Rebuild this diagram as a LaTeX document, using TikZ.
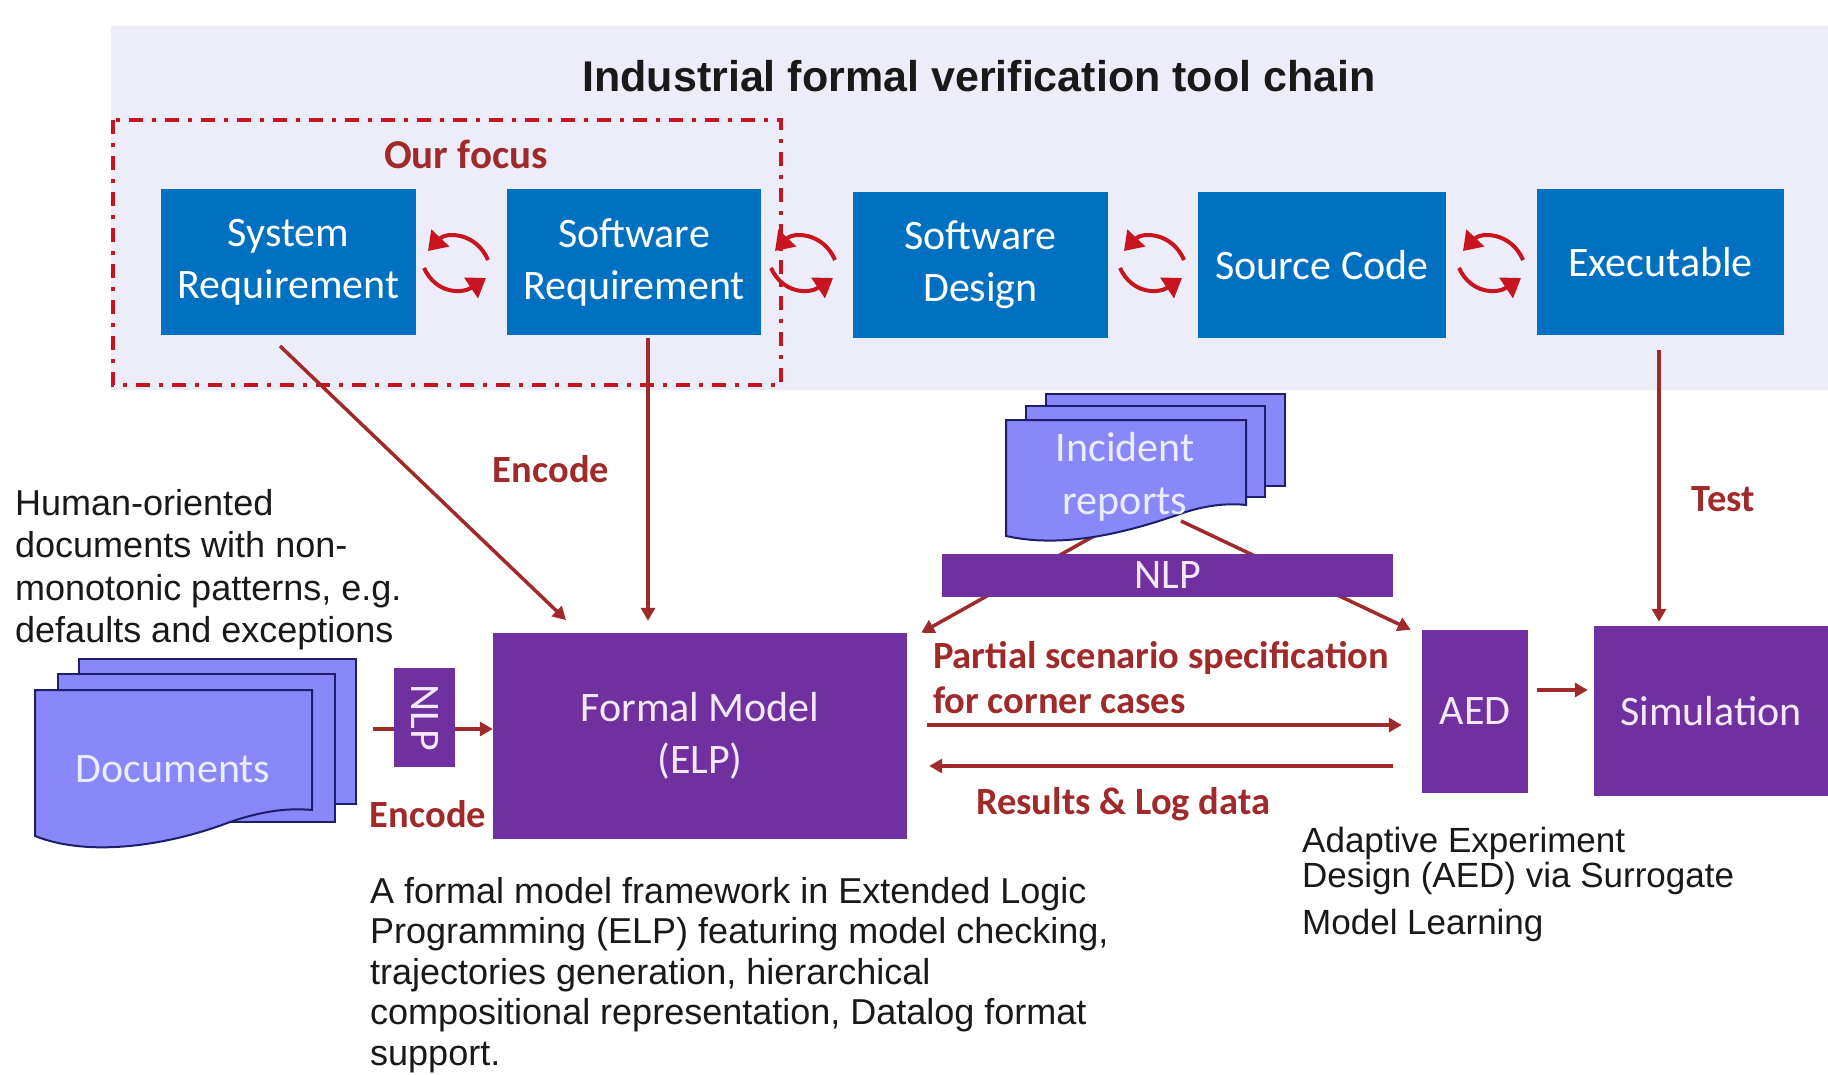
\documentclass[tikz,border=0pt]{standalone}
\usepackage{fontspec}
\setmainfont{Liberation Sans}
\newfontfamily\calfont{Carlito}
\usetikzlibrary{arrows.meta,calc}
\definecolor{bandc}{RGB}{237,237,250}
\definecolor{bluebox}{RGB}{0,112,192}
\definecolor{purplebox}{RGB}{112,48,160}
\definecolor{docfill}{RGB}{136,136,248}
\definecolor{docline}{RGB}{30,30,110}
\definecolor{darkred}{RGB}{160,42,42}
\definecolor{brightred}{RGB}{200,20,30}
\definecolor{boxtext}{RGB}{246,232,252}
\definecolor{doctext}{RGB}{236,236,255}
\definecolor{bodytext}{RGB}{25,25,25}
\begin{document}
\begin{tikzpicture}[x=1pt,y=-1pt,
  bbox/.style={fill=bluebox, text=white, inner sep=0pt, align=center,
    font=\calfont\fontsize{42}{52}\selectfont},
  pbox/.style={fill=purplebox, text=boxtext, inner sep=0pt, align=center,
    font=\calfont\fontsize{42}{52}\selectfont},
  lbl/.style={text=darkred, inner sep=0pt, font=\calfont\bfseries\fontsize{38.5}{45}\selectfont},
  conn/.style={draw=darkred, line width=3.5pt, -{Triangle[width=14pt,length=13pt]}},
  cyc/.style={draw=brightred, line width=4pt, -{Triangle[width=24pt,length=18pt]}},
  doc/.style={fill=docfill, draw=docline, line width=2pt},
  doctxt/.style={text=doctext, inner sep=0pt, align=center, font=\calfont\fontsize{42}{53}\selectfont},
  body/.style={text=bodytext, inner sep=0pt, align=left}]
\useasboundingbox (0,0) rectangle (1828,1075);
\fill[white] (0,0) rectangle (1828,1075);
\fill[bandc] (111,26) rectangle (1828,390);

\node[text=bodytext, font=\bfseries\fontsize{43}{50}\selectfont] (title) at (979,76) {Industrial formal verification tool chain};

% top chain
\node[bbox, minimum width=255pt, minimum height=146pt] (sysreq) at (288.5,262) {System\\Requirement};
\node[bbox, minimum width=254pt, minimum height=146pt] (swreq) at (634,262) {Software\\Requirement};
\node[bbox, minimum width=255pt, minimum height=146pt] (swdes) at (980.5,265) {Software\\Design};
\node[bbox, minimum width=248pt, minimum height=146pt] (src) at (1322,265) {Source Code};
\node[bbox, minimum width=247pt, minimum height=146pt] (exe) at (1660.5,262) {Executable};

% cycle arrows
\foreach \n/\cx in {c1/456, c2/803, c3/1152, c4/1491}{
  \coordinate (\n) at (\cx,264);
  \draw[cyc] ($(\n)+(32,-4)$) .. controls ($(\n)+(20,-32)$) and ($(\n)+(-10,-32)$) .. ($(\n)+(-28,-13)$);
  \draw[cyc] ($(\n)+(-32,4)$) .. controls ($(\n)+(-20,30)$) and ($(\n)+(6,30)$) .. ($(\n)+(30,14)$);
}

% focus box
\draw[brightred, line width=4.5pt, dash pattern=on 14pt off 9pt on 4pt off 9pt] (113,120) rectangle (781,385);
\node[lbl, font=\calfont\bfseries\fontsize{41}{48}\selectfont] (focus) at (466,154) {Our focus};

% lower purple boxes
\node[pbox, minimum width=414pt, minimum height=206pt] (fm) at (700,736) {Formal Model\\(ELP)};
\node[pbox, minimum width=106pt, minimum height=163pt] (aed) at (1475,711.5) {AED};
\node[pbox, minimum width=234pt, minimum height=170pt] (sim) at (1711,711) {Simulation};

% encode / test connectors
\coordinate (s1) at (280,346);
\coordinate (e1) at (566,620);
\draw[conn] (s1) -- (e1);
\coordinate (sw1) at (648,338);
\draw[conn, shorten >=12pt] (sw1) -- (sw1 |- fm.north);
\node[lbl] (enc1) at (551,469) {Encode};
\coordinate (x1) at (1659,350);
\draw[conn, shorten >=4pt] (x1) -- (x1 |- sim.north);
\node[lbl] (test) at (1723,499) {Test};

% documents
\path[doc] (79,659) rectangle (356,804);
\path[doc] (58,674) rectangle (335,822);
\path[doc] (35,690) -- (312,690) -- (312,810) .. controls (290,808) and (265,810) .. (230,822)
  .. controls (170,845) and (90,858) .. (35,836) -- cycle;
\node[doctxt] (docs) at (173,769) {Documents};
\coordinate (d1) at (373,729);
\draw[conn] (d1) -- (d1 -| fm.west);
\node[pbox, rotate=-90, minimum width=99pt, minimum height=61pt] (nlpa) at (424.5,717.5) {NLP};
\node[lbl] (enc2) at (428,814) {Encode};

% incident reports
\coordinate (il) at (1110,527);
\coordinate (ir) at (1181,521);
\draw[conn] (il) -- ($(fm.north east)+(14,0)$);
\draw[conn] (ir) -- ($(aed.north west)+(-11,0)$);
\path[doc] (1046,394) rectangle (1285,486);
\path[doc] (1026,406) rectangle (1265,497);
\path[doc] (1006,420) -- (1246,420) -- (1246,505) .. controls (1228,503) and (1205,505) .. (1180,514)
  .. controls (1120,535) and (1060,548) .. (1006,536) -- cycle;
\node[doctxt] (incid) at (1125,477) {Incident\\reports};
\node[pbox, minimum width=451pt, minimum height=43pt] (nlpb) at (1167.5,575.5) {NLP};

% scenario arrows
\coordinate (pa1) at ($(fm.east)+(20,-11)$);
\coordinate (pa2) at ($(aed.west)+(-20,13.5)$);
\draw[conn] (pa1) -- (pa2);
\coordinate (pb1) at ($(aed.west)+(-29,54.5)$);
\coordinate (pb2) at ($(fm.east)+(22,30)$);
\draw[conn] (pb1) -- (pb2);
\node[lbl, anchor=base west, align=left] (partial) at (933,713) {Partial scenario specification\\for corner cases};
\node[lbl] (results) at (1123,804) {Results \& Log data};

\draw[conn] ($(aed.east)+(9,-21.5)$) -- ($(sim.west)+(-6,-21)$);

% descriptive texts (base anchor = last line's baseline)
\node[body, anchor=base west, font=\fontsize{36}{42.5}\selectfont] (human) at (15,642.5)
  {Human-oriented\\documents with non-\\monotonic patterns, e.g.\\defaults and exceptions};
\node[body, anchor=base west, font=\fontsize{36}{40.5}\selectfont] (formaltxt) at (370,1065)
  {A formal model framework in Extended Logic\\Programming (ELP) featuring model checking,\\trajectories generation, hierarchical\\compositional representation, Datalog format\\support.};
\node[body, anchor=base west, font=\fontsize{35}{35}\selectfont] (aedtxt) at (1302,934)
  {Adaptive Experiment\\Design (AED) via Surrogate\\[12pt]Model Learning};
\end{tikzpicture}
\end{document}
